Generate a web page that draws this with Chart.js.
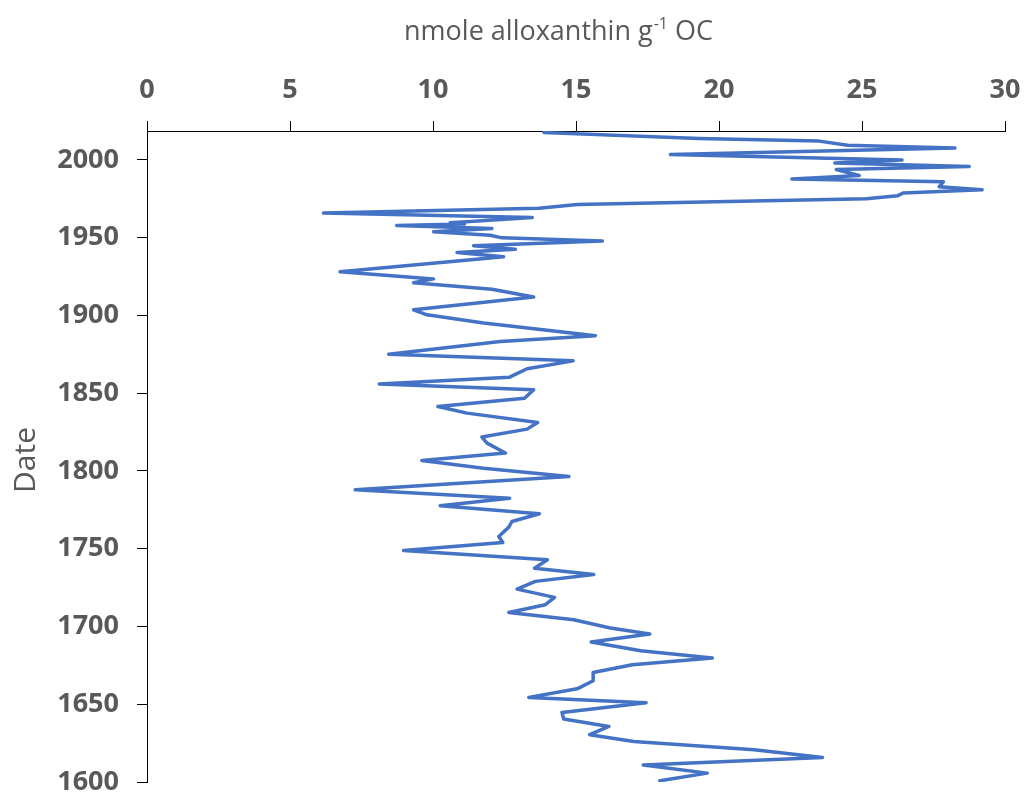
<!DOCTYPE html>
<html><head><meta charset="utf-8">
<script src="https://cdn.jsdelivr.net/npm/chart.js@4.4.1/dist/chart.umd.min.js"></script>
<style>html,body{margin:0;padding:0;background:#fff;}#wrap{width:1024px;height:796px;position:relative;}</style>
</head><body><div id="wrap"><canvas id="c" width="1024" height="796"></canvas></div>
<script>
// Date (year) of each sample, top of core to bottom
const dates = [2017.6,2013.7,2012.1,2009.5,2007.6,2003.5,2000.0,1998.0,1995.8,1993.8,
  1990.0,1987.7,1986.0,1982.8,1980.8,1978.8,1977.0,1975.0,1971.3,1969.0,
  1965.8,1962.9,1959.6,1958.8,1957.8,1955.9,1953.8,1951.6,1949.9,1947.8,
  1944.8,1942.6,1940.5,1937.7,1928.1,1923.5,1921.0,1916.9,1911.8,1903.6,
  1900.4,1895.1,1887.0,1883.2,1875.1,1870.8,1865.7,1860.3,1855.9,1852.2,
  1846.8,1841.4,1837.2,1831.2,1826.9,1821.8,1817.9,1811.5,1806.7,1801.8,
  1796.4,1787.9,1782.5,1777.6,1772.5,1767.5,1763.9,1757.9,1754.0,1748.9,
  1742.9,1737.5,1733.4,1729.0,1724.0,1718.7,1714.0,1709.0,1704.3,1699.0,
  1695.1,1690.0,1684.4,1679.7,1675.4,1670.4,1665.1,1659.9,1654.4,1651.0,
  1644.7,1640.5,1635.7,1630.4,1626.0,1620.7,1615.8,1610.9,1605.7,1600.8];
// nmole alloxanthin per g OC
const alloxanthin = [13.88,19.3,23.5,24.5,28.25,18.3,26.4,24.05,28.75,24.1,
  24.9,22.55,27.85,27.7,29.2,26.45,26.25,25.15,15.05,13.7,
  6.17,13.47,10.6,11.1,8.73,12.06,10.02,12.0,12.41,15.92,
  11.42,12.88,10.84,12.47,6.75,10.02,9.32,12.06,13.52,9.32,
  9.79,11.77,15.68,12.35,8.45,14.9,13.29,12.68,8.12,13.52,
  13.2,10.17,11.19,13.66,13.29,11.71,11.89,12.53,9.61,11.77,
  14.75,7.28,12.68,10.25,13.72,12.76,12.65,12.3,12.44,8.97,
  14.0,13.55,15.62,13.58,12.94,14.25,13.93,12.65,14.92,16.2,
  17.58,15.53,17.26,19.77,16.97,15.6,15.6,15.04,13.35,17.45,
  14.51,14.57,16.15,15.48,17.02,21.23,23.62,17.35,19.59,17.93];
const xTicks = [0,5,10,15,20,25,30];
const yTicks = [1600,1650,1700,1750,1800,1850,1900,1950,2000];
const xTitleParts = ['nmole alloxanthin g', '-1', ' OC'];
const yTitle = 'Date';

const points = dates.map((d,i)=>({x: alloxanthin[i], y: d}));
const grey = '#595959';

const titlePlugin = {
  id: 'titles',
  afterDraw(chart){
    const ctx = chart.ctx;
    ctx.save();
    ctx.fillStyle = grey;
    ctx.textBaseline = 'alphabetic';
    const big = '27px "Open Sans"', small = '16px "Open Sans"';
    ctx.font = big; const w1 = ctx.measureText(xTitleParts[0]).width;
    ctx.font = small; const w2 = ctx.measureText(xTitleParts[1]).width;
    ctx.font = big; const w3 = ctx.measureText(xTitleParts[2]).width;
    let x = 558 - (w1+w2+w3)/2; const base = 40;
    ctx.textAlign = 'left';
    ctx.font = big; ctx.fillText(xTitleParts[0], x, base); x += w1;
    ctx.font = small; ctx.fillText(xTitleParts[1], x+1, base-11); x += w2+1;
    ctx.font = big; ctx.fillText(xTitleParts[2], x, base);
    ctx.translate(26, 460);
    ctx.rotate(-Math.PI/2);
    ctx.textAlign = 'center'; ctx.textBaseline = 'middle';
    ctx.font = '30px "Open Sans"';
    ctx.fillText(yTitle, 0, 0);
    ctx.restore();
  }
};

new Chart(document.getElementById('c'), {
  type: 'scatter',
  data: { datasets: [{
    data: points, showLine: true, borderColor: '#4472C4', borderWidth: 3.5,
    pointRadius: 0, pointHoverRadius: 0, tension: 0, fill: false,
    borderJoinStyle: 'round', borderCapStyle: 'round'
  }]},
  options: {
    responsive: false, animation: false, devicePixelRatio: 1,
    layout: { padding: { left: 0, top: 0, right: 19, bottom: 14 } },
    plugins: { legend: { display: false }, tooltip: { enabled: false } },
    scales: {
      x: {
        type: 'linear', position: 'top', min: 0, max: 30,
        afterBuildTicks: s => { s.ticks = xTicks.map(v => ({ value: v })); },
        afterFit: s => { s.height = 131; s.paddingLeft = 0; s.paddingRight = 0; },
        grid: { drawOnChartArea: false, drawTicks: true, tickLength: 10, color: '#000' },
        border: { color: '#000', width: 1 },
        ticks: { color: grey, padding: 14, callback: v => String(v), font: { family: 'Open Sans', weight: 'bold', size: 27 } }
      },
      y: {
        type: 'linear', min: 1600, max: 2018.6,
        afterBuildTicks: s => { s.ticks = yTicks.map(v => ({ value: v })); },
        afterFit: s => { s.width = 147; s.paddingTop = 0; s.paddingBottom = 0; },
        grid: { drawOnChartArea: false, drawTicks: true, tickLength: 10, color: '#000' },
        border: { color: '#000', width: 1 },
        ticks: { color: grey, padding: 18, callback: v => String(v), font: { family: 'Open Sans', weight: 'bold', size: 27 } }
      }
    }
  },
  plugins: [titlePlugin]
});
</script></body></html>
